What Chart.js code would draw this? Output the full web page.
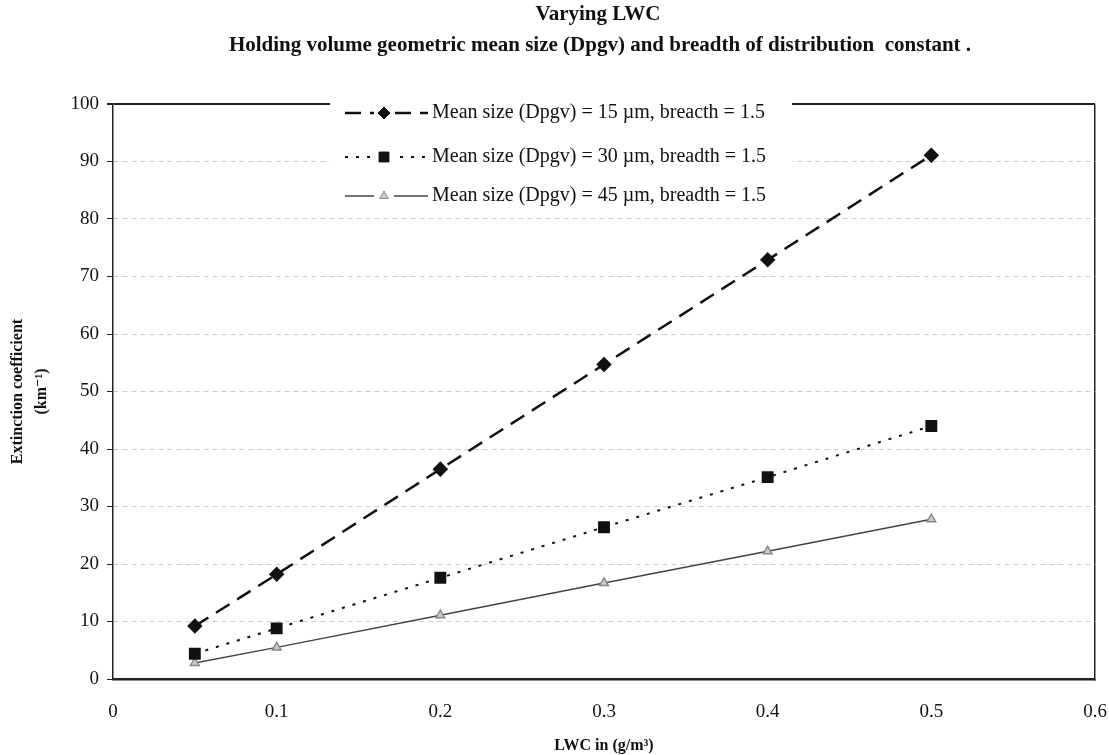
<!DOCTYPE html>
<html>
<head>
<meta charset="utf-8">
<script src="https://cdn.jsdelivr.net/npm/chart.js@4/dist/chart.umd.min.js"></script>
<style>
  html, body { margin: 0; padding: 0; background: #fff; }
  #wrap { width: 1109px; height: 755px; }
</style>
</head>
<body>
<div id="wrap"><canvas id="grafico" width="1109" height="755"></canvas></div>
<script>
const lwc = [0.05, 0.1, 0.2, 0.3, 0.4, 0.5];
const ext15 = [9.2, 18.2, 36.5, 54.7, 72.9, 91.1];
const ext30 = [4.4, 8.8, 17.6, 26.4, 35.1, 44.0];
const ext45 = [2.8, 5.5, 11.1, 16.7, 22.2, 27.8];
const nomes = [
  "Mean size (Dpgv) = 15 \u00b5m, breacth = 1.5",
  "Mean size (Dpgv) = 30 \u00b5m, breadth = 1.5",
  "Mean size (Dpgv) = 45 \u00b5m, breadth = 1.5"
];
const titulo = [
  "Varying LWC",
  "Holding volume geometric mean size (Dpgv) and breadth of distribution  constant ."
];

const SERIF = "'Liberation Serif', 'DejaVu Serif', serif";

function pontos(valores) {
  return lwc.map((x, i) => ({ x, y: valores[i] }));
}

// title sits a bit right of centre in the original, so it is drawn here
const tituloPlugin = {
  id: "tituloDesviado",
  afterDraw(chart) {
    const ctx = chart.ctx;
    ctx.save();
    ctx.fillStyle = "#111";
    ctx.font = "bold 21px " + SERIF;
    ctx.textAlign = "center";
    ctx.textBaseline = "middle";
    ctx.fillText(titulo[0], 598, 15);
    ctx.fillText(titulo[1], 600, 46);
    ctx.restore();
  }
};

// legend drawn in a white box over the top of the plot, like the original
const legendaPlugin = {
  id: "legendaBox",
  afterDatasetsDraw(chart) {
    const ctx = chart.ctx;
    ctx.save();
    ctx.fillStyle = "#fff";
    ctx.fillRect(330, 95, 462, 121);
    const linhasY = [113, 157, 196];
    chart.data.datasets.forEach((ds, i) => {
      const y = linhasY[i];
      ctx.strokeStyle = ds.borderColor;
      ctx.lineWidth = ds.borderWidth;
      ctx.setLineDash(ds.borderDash || []);
      ctx.beginPath();
      ctx.moveTo(345, y);
      ctx.lineTo(428, y);
      ctx.stroke();
      ctx.setLineDash([]);
      ctx.fillStyle = "#fff";
      ctx.fillRect(374, y - 9, 20, 18);
      ctx.fillStyle = ds.pointBackgroundColor;
      ctx.strokeStyle = ds.pointBorderColor;
      ctx.lineWidth = 1;
      Chart.helpers.drawPoint(ctx, {
        pointStyle: ds.pointStyle,
        radius: ds.pointRadius,
        borderWidth: 1,
        rotation: 0
      }, 384, y);
      ctx.fillStyle = "#111";
      ctx.font = "20px " + SERIF;
      ctx.textBaseline = "middle";
      ctx.textAlign = "left";
      ctx.fillText(nomes[i], 432, y);
    });
    ctx.restore();
  }
};

const ctx = document.getElementById("grafico").getContext("2d");
new Chart(ctx, {
  type: "scatter",
  data: {
    datasets: [
      {
        label: nomes[0],
        data: pontos(ext15),
        showLine: true,
        borderColor: "#111",
        borderWidth: 2.5,
        borderDash: [16, 9],
        pointStyle: "rectRot",
        pointRadius: 6,
        pointBackgroundColor: "#111",
        pointBorderColor: "#111"
      },
      {
        label: nomes[1],
        data: pontos(ext30),
        showLine: true,
        borderColor: "#111",
        borderWidth: 2,
        borderDash: [3, 8],
        pointStyle: "rect",
        pointRadius: 7,
        pointBackgroundColor: "#111",
        pointBorderColor: "#111"
      },
      {
        label: nomes[2],
        data: pontos(ext45),
        showLine: true,
        borderColor: "#444",
        borderWidth: 1.5,
        pointStyle: "triangle",
        pointRadius: 5,
        pointBackgroundColor: "#ccc",
        pointBorderColor: "#888"
      }
    ]
  },
  options: {
    responsive: false,
    animation: false,
    layout: { padding: { left: 0, right: 0, top: 104, bottom: 0 } },
    plugins: {
      legend: { display: false },
      tooltip: { enabled: false },
      title: { display: false }
    },
    scales: {
      x: {
        type: "linear",
        min: 0,
        max: 0.6,
        ticks: {
          stepSize: 0.1,
          color: "#111",
          padding: 22,
          font: { family: SERIF, size: 19 }
        },
        grid: {
          color: (c) => (c.tick && Math.abs(c.tick.value - 0.6) < 1e-6 ? "#222" : "rgba(0,0,0,0)"),
          lineWidth: 1.5,
          tickLength: 0
        },
        border: { color: "#222", width: 2.5 },
        title: {
          display: true,
          text: "LWC in (g/m\u00b3)",
          color: "#111",
          font: { family: SERIF, size: 16, weight: "bold" },
          padding: { top: 0, bottom: 0 }
        },
        afterFit(scale) {
          scale.height = 76;
          scale.paddingLeft = 0;
          scale.paddingRight = 14;
        }
      },
      y: {
        min: 0,
        max: 100,
        ticks: {
          stepSize: 10,
          color: "#111",
          padding: 8,
          font: { family: SERIF, size: 19 }
        },
        grid: {
          color: (c) => (c.tick && c.tick.value === 100 ? "#222" : "#cccccc"),
          lineWidth: (c) => (c.tick && c.tick.value === 100 ? 2 : 1),
          tickColor: "#222",
          tickLength: 6,
          tickBorderDash: [],
          drawTicks: true
        },
        border: {
          color: "#222",
          width: 1.5,
          dash: (c) => (c.tick && c.tick.value === 100 ? [] : [5, 4])
        },
        title: {
          display: true,
          text: ["Extinction coefficient", "(km\u207b\u00b9)"],
          color: "#111",
          font: { family: SERIF, size: 16, weight: "bold", lineHeight: 1.55 },
          padding: { top: 5, bottom: 2 }
        },
        afterFit(scale) { scale.width = 113; }
      }
    }
  },
  plugins: [legendaPlugin, tituloPlugin]
});
</script>
</body>
</html>
